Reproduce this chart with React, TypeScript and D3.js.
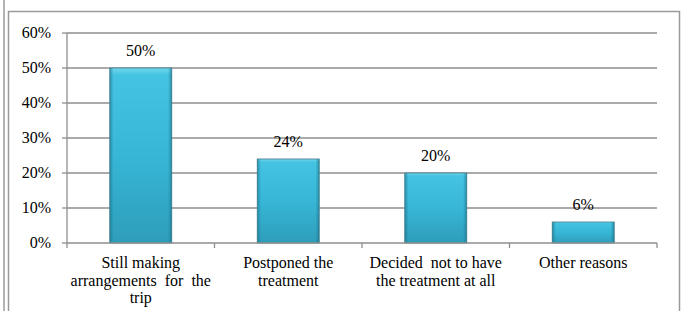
import React, { useEffect, useRef } from 'react';
import * as d3 from 'd3';

// chart data
const categories: string[][] = [
  ['Still making', 'arrangements  for  the', 'trip'],
  ['Postponed the', 'treatment'],
  ['Decided  not to have', 'the treatment at all'],
  ['Other reasons'],
];
const values: number[] = [50, 24, 20, 6];
const yTicks: number[] = [0, 10, 20, 30, 40, 50, 60];

const App = () => {
  const ref = useRef<SVGSVGElement>(null);

  useEffect(() => {
    if (!ref.current) return;
    const svg = d3.select(ref.current);
    svg.selectAll('*').remove();

    const H = 311;
    const left = 67, right = 657, top = 33, bottom = 243;
    const font = 'Liberation Serif';
    const fs = 16;
    const grey = '#8e8e8e';

    // frame lines
    svg.append('line').attr('x1', 4).attr('x2', 4).attr('y1', 0).attr('y2', H)
      .attr('stroke', '#9a9a9a').attr('stroke-width', 1.5);
    svg.append('path').attr('d', `M8.5,${H} V11.5 H679.5 V${H}`)
      .attr('fill', 'none').attr('stroke', '#9a9a9a').attr('stroke-width', 1.5);

    const x = d3.scaleBand<number>()
      .domain(d3.range(values.length))
      .range([left, right])
      .padding(0);
    const y = d3.scaleLinear().domain([0, 60]).range([bottom, top]);

    // defs for bar look
    const defs = svg.append('defs');
    const gv = defs.append('linearGradient').attr('id', 'barV').attr('x1', 0).attr('x2', 0).attr('y1', 0).attr('y2', 1);
    gv.append('stop').attr('offset', '0%').attr('stop-color', '#6fd6ef');
    gv.append('stop').attr('offset', '4%').attr('stop-color', '#45c3e2');
    gv.append('stop').attr('offset', '50%').attr('stop-color', '#37b6d6');
    gv.append('stop').attr('offset', '100%').attr('stop-color', '#2e9dba');
    const gh = defs.append('linearGradient').attr('id', 'barH').attr('x1', 0).attr('x2', 1).attr('y1', 0).attr('y2', 0);
    gh.append('stop').attr('offset', '0%').attr('stop-color', '#1a6f86').attr('stop-opacity', 0.6);
    gh.append('stop').attr('offset', '6%').attr('stop-color', '#1a6f86').attr('stop-opacity', 0);
    gh.append('stop').attr('offset', '94%').attr('stop-color', '#1a6f86').attr('stop-opacity', 0);
    gh.append('stop').attr('offset', '100%').attr('stop-color', '#1a6f86').attr('stop-opacity', 0.6);

    // gridlines
    svg.append('g').selectAll('line').data(yTicks.filter(d => d > 0)).enter().append('line')
      .attr('x1', left).attr('x2', right)
      .attr('y1', d => y(d)).attr('y2', d => y(d))
      .attr('stroke', grey).attr('stroke-width', 1.3);

    // y axis line + ticks
    svg.append('line').attr('x1', left).attr('x2', left).attr('y1', top).attr('y2', bottom)
      .attr('stroke', grey).attr('stroke-width', 1.3);
    svg.append('g').selectAll('line').data(yTicks).enter().append('line')
      .attr('x1', left - 5).attr('x2', left)
      .attr('y1', d => y(d)).attr('y2', d => y(d))
      .attr('stroke', grey).attr('stroke-width', 1.3);
    svg.append('g').selectAll('text').data(yTicks).enter().append('text')
      .attr('x', 51).attr('y', d => y(d) + 5)
      .attr('text-anchor', 'end')
      .attr('font-family', font).attr('font-size', fs).attr('fill', '#000')
      .text(d => `${d}%`);

    // bars
    const bw = x.bandwidth() * 0.42;
    const bars = svg.append('g').selectAll('g').data(values).enter().append('g');
    bars.append('rect')
      .attr('x', (d, i) => (x(i) || 0) + x.bandwidth() / 2 - bw / 2)
      .attr('y', d => y(d))
      .attr('width', bw)
      .attr('height', d => bottom - y(d))
      .attr('fill', 'url(#barV)')
      .attr('stroke', '#4f8795').attr('stroke-width', 0.9);
    bars.append('rect')
      .attr('x', (d, i) => (x(i) || 0) + x.bandwidth() / 2 - bw / 2)
      .attr('y', d => y(d))
      .attr('width', bw)
      .attr('height', d => bottom - y(d))
      .attr('fill', 'url(#barH)');

    // x axis baseline + ticks
    svg.append('line').attr('x1', left).attr('x2', right).attr('y1', bottom).attr('y2', bottom)
      .attr('stroke', grey).attr('stroke-width', 1.3);
    const bounds = d3.range(values.length + 1).map(i => left + i * x.step());
    svg.append('g').selectAll('line').data(bounds).enter().append('line')
      .attr('x1', d => d).attr('x2', d => d).attr('y1', bottom).attr('y2', bottom + 5)
      .attr('stroke', grey).attr('stroke-width', 1.3);

    // value labels
    svg.append('g').selectAll('text').data(values).enter().append('text')
      .attr('x', (d, i) => (x(i) || 0) + x.bandwidth() / 2)
      .attr('y', d => y(d) - 12)
      .attr('text-anchor', 'middle')
      .attr('font-family', font).attr('font-size', fs).attr('fill', '#000')
      .text(d => `${d}%`);

    // category labels
    const cat = svg.append('g').selectAll('text').data(categories).enter().append('text')
      .attr('text-anchor', 'middle')
      .attr('font-family', font).attr('font-size', fs).attr('fill', '#000')
      .style('white-space', 'pre');
    cat.each(function (lines, i) {
      const t = d3.select(this);
      lines.forEach((ln, j) => {
        t.append('tspan')
          .attr('x', (x(i) || 0) + x.bandwidth() / 2)
          .attr('y', 268 + j * 17.5)
          .text(ln);
      });
    });
  }, []);

  return (
    <svg ref={ref} width={692} height={311}
      style={{ position: 'absolute', left: 0, top: 0, background: '#fff' }} />
  );
};

export default App;
